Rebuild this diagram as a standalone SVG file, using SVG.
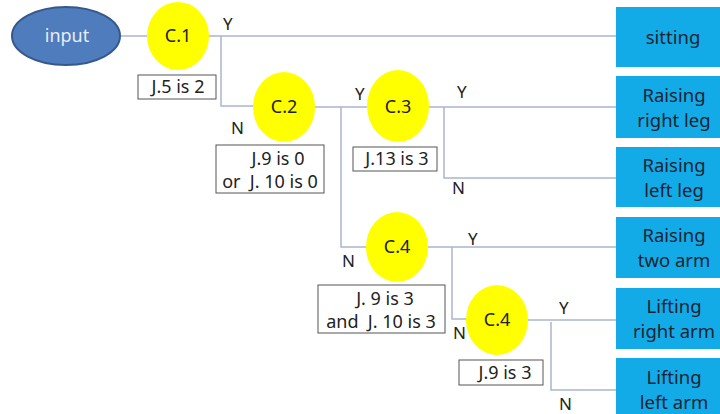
<svg xmlns="http://www.w3.org/2000/svg" width="720" height="414" viewBox="0 0 720 414">
<style>
.ln{stroke:#a9b7cc;stroke-width:1.5;fill:none}
.c{fill:#ffff00}
.out{fill:#12abe8}
.cond{fill:#fff;stroke:#555;stroke-width:1}
text{font-family:"Noto Sans","Open Sans","DejaVu Sans",sans-serif;fill:#222;font-size:17px}
.o{font-size:18.5px;text-anchor:middle;fill:#1a2433}
.m{text-anchor:middle}
.k{font-size:18px;text-anchor:middle}
</style>
<rect width="720" height="414" fill="#fff"/>
<g id="connectors">
<path class="ln" d="M120,36 H147 M208,36 H616"/>
<path class="ln" d="M221,36 V106 H254"/>
<path class="ln" d="M315,107 H367 M429,107 H616"/>
<path class="ln" d="M444,107 V178 H616"/>
<path class="ln" d="M341,107 V247 H367 M428,247 H616"/>
<path class="ln" d="M452,247 V319 H466 M527,320 H616"/>
<path class="ln" d="M551,322 V390 H616"/>
<text x="223" y="30">Y</text>
<text x="231" y="134">N</text>
<text x="355" y="100">Y</text>
<text x="457" y="98">Y</text>
<text x="452" y="194">N</text>
<text x="342" y="267">N</text>
<text x="468" y="245">Y</text>
<text x="453" y="339">N</text>
<text x="559" y="314">Y</text>
<text x="559" y="410">N</text>
</g>
<g id="input">
<ellipse cx="66" cy="36" rx="54" ry="29" fill="#4f7cbd" stroke="#36598c" stroke-width="2"/>
<text x="67" y="42" class="k" style="fill:#e8eef8">input</text>
</g>
<g id="c1">
<ellipse class="c" cx="178" cy="36" rx="31" ry="34"/>
<text x="178" y="42" class="k">C.1</text>
<rect class="cond" x="138" y="75" width="78" height="24"/>
<text x="178" y="93" class="k">J.5 is 2</text>
</g>
<g id="c2">
<ellipse class="c" cx="284" cy="107" rx="31" ry="35"/>
<text x="284" y="113" class="k">C.2</text>
<rect class="cond" x="216" y="145" width="108" height="48"/>
<text x="278" y="165" class="k">J.9 is 0</text>
<text x="270" y="188" class="k" xml:space="preserve">or  J. 10 is 0</text>
</g>
<g id="c3">
<ellipse class="c" cx="398" cy="106" rx="31" ry="36"/>
<text x="398" y="113" class="k">C.3</text>
<rect class="cond" x="353" y="147" width="84" height="24"/>
<text x="397" y="165" class="k">J.13 is 3</text>
</g>
<g id="c4a">
<ellipse class="c" cx="397" cy="247" rx="31" ry="35"/>
<text x="397" y="253" class="k">C.4</text>
<rect class="cond" x="318" y="285" width="127" height="48"/>
<text x="385" y="305" class="k">J. 9 is 3</text>
<text x="381" y="328" class="k" xml:space="preserve">and  J. 10 is 3</text>
</g>
<g id="c4b">
<ellipse class="c" cx="497" cy="320" rx="31" ry="35"/>
<text x="497" y="326" class="k">C.4</text>
<rect class="cond" x="459" y="360" width="84" height="25"/>
<text x="505" y="379" class="k">J.9 is 3</text>
</g>
<g id="sitting"><rect class="out" x="616" y="7" width="104" height="60"/><text class="o" x="673" y="44">sitting</text></g>
<g id="raising-right-leg"><rect class="out" x="616" y="76" width="104" height="62"/><text class="o" x="674" y="102">Raising</text><text class="o" x="674" y="127">right leg</text></g>
<g id="raising-left-leg"><rect class="out" x="616" y="147" width="104" height="60"/><text class="o" x="674" y="172">Raising</text><text class="o" x="674" y="197">left leg</text></g>
<g id="raising-two-arm"><rect class="out" x="616" y="217" width="104" height="61"/><text class="o" x="674" y="242">Raising</text><text class="o" x="674" y="267">two arm</text></g>
<g id="lifting-right-arm"><rect class="out" x="616" y="288" width="104" height="61"/><text class="o" x="674" y="313">Lifting</text><text class="o" x="674" y="338">right arm</text></g>
<g id="lifting-left-arm"><rect class="out" x="616" y="358" width="104" height="56"/><text class="o" x="674" y="384">Lifting</text><text class="o" x="674" y="409">left arm</text></g>
</svg>
